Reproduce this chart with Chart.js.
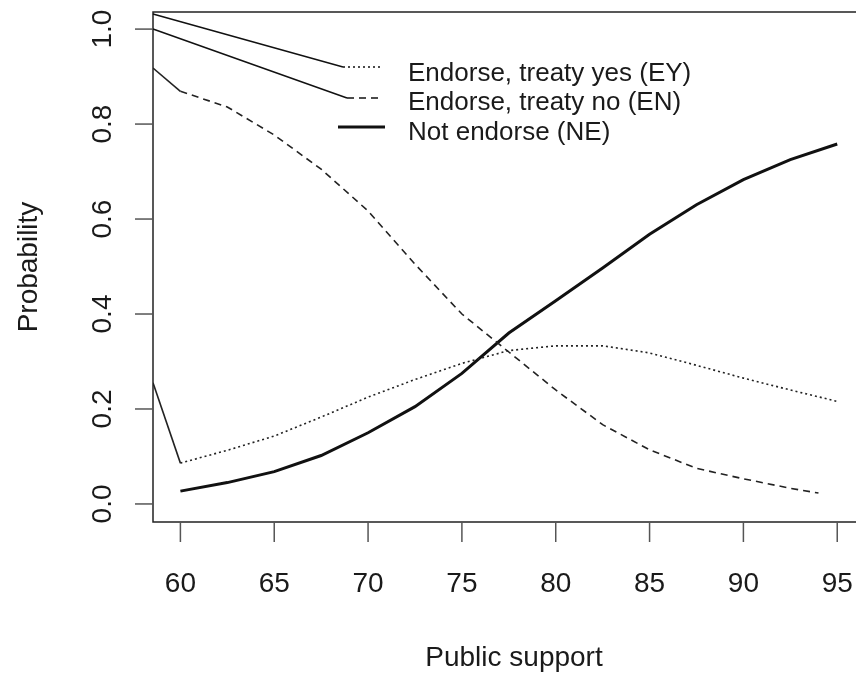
<!DOCTYPE html>
<html>
<head>
<meta charset="utf-8">
<script src="https://cdn.jsdelivr.net/npm/chart.js@4.4.0/dist/chart.umd.min.js"></script>
<style>
  body { margin: 0; background: #fff; }
  canvas { display: block; }
</style>
</head>
<body>
<canvas id="mychart" width="856" height="677"></canvas>
<script>
// public support values where the curves were evaluated
var support = [60, 62.5, 65, 67.5, 70, 72.5, 75, 77.5, 80, 82.5, 85, 87.5, 90, 92.5, 95];
var supportEN = [60, 62.5, 65, 67.5, 70, 72.5, 75, 77.5, 80, 82.5, 85, 87.5, 90, 92.5, 94];

var treatyYes = [0.086, 0.113, 0.143, 0.183, 0.225, 0.262, 0.296, 0.323, 0.333, 0.333, 0.318, 0.292, 0.265, 0.240, 0.216];
var treatyNo = [0.869, 0.836, 0.777, 0.705, 0.617, 0.505, 0.400, 0.320, 0.240, 0.167, 0.114, 0.075, 0.053, 0.033, 0.023];
var notEndorse = [0.027, 0.045, 0.068, 0.102, 0.150, 0.205, 0.275, 0.360, 0.428, 0.497, 0.568, 0.630, 0.683, 0.725, 0.758];

// the stray solid lead-in from the left edge of the plot
var leadX = 58.54;
var leadYes = 0.255;
var leadNo = 0.918;

var xTicks = [60, 65, 70, 75, 80, 85, 90, 95];
var yTicks = [0, 0.2, 0.4, 0.6, 0.8, 1.0];
var yTickLabels = ["0.0", "0.2", "0.4", "0.6", "0.8", "1.0"];

var legendLabels = ["Endorse, treaty yes (EY)", "Endorse, treaty no (EN)", "Not endorse (NE)"];

var AXIS_FONT = '28px "Liberation Sans", Arial, sans-serif';
var LEG_FONT = '26px "Liberation Sans", Arial, sans-serif';
var INK = "#1a1a1a";

function pts(xs, ys, lx, ly) {
  var out = [{ x: lx, y: ly }];
  for (var i = 0; i < ys.length; i++) out.push({ x: xs[i], y: ys[i] });
  return out;
}
function plain(xs, ys) {
  return ys.map(function (v, i) { return { x: xs[i], y: v }; });
}

// box, axes, labels, legend -- drawn R style
var rFrame = {
  id: "rFrame",
  afterDraw: function (chart) {
    var c = chart.ctx, a = chart.chartArea;
    var xs = chart.scales.x, ys = chart.scales.y;
    c.save();
    c.strokeStyle = "#222";
    c.lineWidth = 1.5;
    c.beginPath();
    c.moveTo(chart.width + 2, a.top);
    c.lineTo(a.left, a.top);
    c.lineTo(a.left, a.bottom);
    c.lineTo(chart.width + 2, a.bottom);
    c.stroke();

    // ticks
    c.strokeStyle = "#555";
    c.lineWidth = 1.5;
    c.fillStyle = INK;
    c.font = AXIS_FONT;
    c.textAlign = "center";
    c.textBaseline = "alphabetic";
    xTicks.forEach(function (t) {
      var px = xs.getPixelForValue(t);
      c.beginPath();
      c.moveTo(px, a.bottom);
      c.lineTo(px, a.bottom + 20);
      c.stroke();
      c.fillText(String(t), px, 592);
    });
    yTicks.forEach(function (t, i) {
      var py = ys.getPixelForValue(t);
      c.beginPath();
      c.moveTo(a.left, py);
      c.lineTo(a.left - 18, py);
      c.stroke();
      c.save();
      c.translate(111, py);
      c.rotate(-Math.PI / 2);
      c.fillText(yTickLabels[i], 0, 0);
      c.restore();
    });

    // axis titles
    c.fillText("Public support", 514, 666);
    c.save();
    c.translate(37, (a.top + a.bottom) / 2);
    c.rotate(-Math.PI / 2);
    c.fillText("Probability", 0, 0);
    c.restore();

    // legend
    c.strokeStyle = "#111";
    c.lineWidth = 1.5;
    c.setLineDash([]);
    c.beginPath();
    c.moveTo(a.left, 14); c.lineTo(343, 67);
    c.moveTo(a.left, 29); c.lineTo(347, 98);
    c.stroke();
    c.setLineDash([2, 3]);
    c.beginPath(); c.moveTo(343, 67); c.lineTo(383, 67); c.stroke();
    c.setLineDash([7, 5]);
    c.beginPath(); c.moveTo(347, 98); c.lineTo(382, 98); c.stroke();
    c.setLineDash([]);
    c.lineWidth = 3;
    c.beginPath(); c.moveTo(338, 127); c.lineTo(385, 127); c.stroke();
    c.font = LEG_FONT;
    c.textAlign = "left";
    c.fillText(legendLabels[0], 408, 81);
    c.fillText(legendLabels[1], 408, 110);
    c.fillText(legendLabels[2], 408, 140);
    c.restore();
  }
};

var ctx = document.querySelector("#mychart").getContext("2d");
var chart = new Chart(ctx, {
  type: "line",
  data: {
    datasets: [{
      label: legendLabels[0],
      data: pts(support, treatyYes, leadX, leadYes),
      borderColor: "#222",
      borderWidth: 1.6,
      pointRadius: 0,
      segment: {
        borderDash: function (s) { return s.p0DataIndex === 0 ? [] : [2, 3]; }
      }
    }, {
      label: legendLabels[1],
      data: pts(supportEN, treatyNo, leadX, leadNo),
      borderColor: "#222",
      borderWidth: 1.6,
      pointRadius: 0,
      segment: {
        borderDash: function (s) { return s.p0DataIndex === 0 ? [] : [7, 5]; }
      }
    }, {
      label: legendLabels[2],
      data: plain(support, notEndorse),
      borderColor: "#111",
      borderWidth: 3,
      pointRadius: 0
    }]
  },
  options: {
    responsive: false,
    animation: false,
    layout: { padding: { left: 153, top: 12, right: 0, bottom: 155 } },
    plugins: { legend: { display: false }, tooltip: { enabled: false } },
    scales: {
      x: { type: "linear", min: 58.54, max: 96.0, display: false },
      y: { min: -0.038, max: 1.036, display: false }
    }
  },
  plugins: [rFrame]
});
</script>
</body>
</html>
